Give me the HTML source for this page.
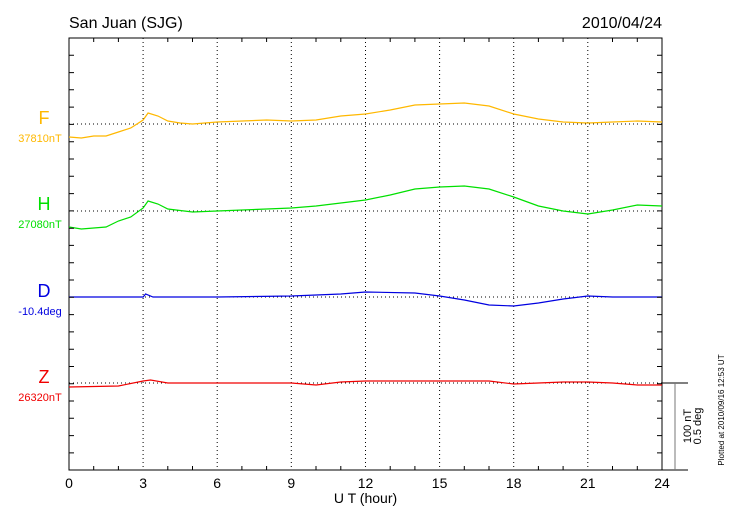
<!DOCTYPE html>
<html><head><style>body{margin:0;background:#fff}svg{display:block}text{font-family:"Liberation Sans",sans-serif}</style></head><body>
<svg width="730" height="520" viewBox="0 0 730 520" xmlns="http://www.w3.org/2000/svg">
<rect width="730" height="520" fill="#fff"/>
<text x="69" y="28" font-size="16">San Juan (SJG)</text>
<text x="662" y="28" font-size="16" text-anchor="end">2010/04/24</text>
<g stroke="#000" stroke-width="1" stroke-dasharray="1,3" fill="none">
<line x1="143.1" y1="38" x2="143.1" y2="470"/><line x1="217.2" y1="38" x2="217.2" y2="470"/><line x1="291.3" y1="38" x2="291.3" y2="470"/><line x1="365.5" y1="38" x2="365.5" y2="470"/><line x1="439.6" y1="38" x2="439.6" y2="470"/><line x1="513.7" y1="38" x2="513.7" y2="470"/><line x1="587.8" y1="38" x2="587.8" y2="470"/>
<line x1="69" y1="124" x2="662" y2="124"/><line x1="69" y1="211" x2="662" y2="211"/><line x1="69" y1="297" x2="662" y2="297"/><line x1="69" y1="383" x2="662" y2="383"/>
</g>
<g id="ax" stroke="#000" stroke-width="1" fill="none">
<rect x="69" y="38" width="593" height="432"/>
<path id="ticks" d=""/>
<line x1="662" y1="383" x2="688" y2="383"/><line x1="662" y1="470" x2="688" y2="470"/>
</g>
<line x1="675" y1="383" x2="675" y2="470" stroke="#777" stroke-width="1"/>
<g stroke="#000" stroke-width="1" id="tk"></g>
<g transform="translate(69,0) scale(24.708,1)" fill="none" stroke-width="1.2">
<polyline vector-effect="non-scaling-stroke" stroke="#ffb800" points="0,137 0.5,138 1,136 1.5,136 2,132 2.5,128 3,120 3.2,113 3.6,116 4,121 4.5,123 5,124 5.5,123 6,122 8,120 9,121 10,120 11,116 12,114 13,110 14,105 15,104 16,103 17,106 18,114 19,119 20,122 21,123 22,122 23,121 24,122"/>
<polyline vector-effect="non-scaling-stroke" stroke="#00e000" points="0,227 0.5,229 1,228 1.5,227 2,221 2.5,217 3,208 3.2,201 3.6,204 4,209 5,212 6,211 8,209 9,208 10,206 11,203 12,200 13,195 14,189 15,187 16,186 17,189 18,197 19,206 20,211 21,214 22,210 23,205 24,206"/>
<polyline vector-effect="non-scaling-stroke" stroke="#0000e0" points="0,297 3,297 3.1,294 3.4,297 6,297 9,296 11,294 12,292 14,293 15,296 16,300 17,305 18,306 19,303 20,299 21,296 22,297 24,297"/>
<polyline vector-effect="non-scaling-stroke" stroke="#f00000" points="0,387 2,386 3,381 3.3,380 4,383 6,383 9,383 10,385 11,382 12,381 15,381 17,381 18,384 19,383 20,382 21,382 22,383 23,385 24,385"/>
</g>
<path stroke="#000" fill="none" d="M69,55.3h5M69,72.6h5M69,89.8h5M69,107.1h5M69,124.4h5M69,141.7h5M69,159h5M69,176.3h5M69,193.6h5M69,210.9h5M69,228.2h5M69,245.4h5M69,262.7h5M69,280h5M69,297.3h5M69,314.6h5M69,331.9h5M69,349.2h5M69,366.5h5M69,383.8h5M69,401h5M69,418.3h5M69,435.6h5M69,452.9h5M662,55.3h-5M662,72.6h-5M662,89.8h-5M662,107.1h-5M662,124.4h-5M662,141.7h-5M662,159h-5M662,176.3h-5M662,193.6h-5M662,210.9h-5M662,228.2h-5M662,245.4h-5M662,262.7h-5M662,280h-5M662,297.3h-5M662,314.6h-5M662,331.9h-5M662,349.2h-5M662,366.5h-5M662,383.8h-5M662,401h-5M662,418.3h-5M662,435.6h-5M662,452.9h-5
M93.7,38v4M118.4,38v4M167.8,38v4M192.5,38v4M241.9,38v4M266.6,38v4M316,38v4M340.8,38v4M390.2,38v4M414.9,38v4M464.3,38v4M489,38v4M538.4,38v4M563.1,38v4M612.5,38v4M637.3,38v4
M93.7,470v-4M118.4,470v-4M167.8,470v-4M192.5,470v-4M241.9,470v-4M266.6,470v-4M316,470v-4M340.8,470v-4M390.2,470v-4M414.9,470v-4M464.3,470v-4M489,470v-4M538.4,470v-4M563.1,470v-4M612.5,470v-4M637.3,470v-4"/>
<g font-size="14" text-anchor="middle">
<text x="69" y="488">0</text><text x="143.1" y="488">3</text><text x="217.2" y="488">6</text><text x="291.3" y="488">9</text><text x="365.5" y="488">12</text><text x="439.6" y="488">15</text><text x="513.7" y="488">18</text><text x="587.8" y="488">21</text><text x="662" y="488">24</text>
<text x="365.5" y="503">U T (hour)</text>
</g>
<g text-anchor="middle">
<text x="44" y="124" font-size="18" fill="#ffb800">F</text><text x="40" y="142" font-size="11" fill="#ffb800">37810nT</text>
<text x="44" y="210" font-size="18" fill="#00e000">H</text><text x="40" y="228" font-size="11" fill="#00e000">27080nT</text>
<text x="44" y="297" font-size="18" fill="#0000e0">D</text><text x="40" y="315" font-size="11" fill="#0000e0">-10.4deg</text>
<text x="44" y="383" font-size="18" fill="#f00000">Z</text><text x="40" y="401" font-size="11" fill="#f00000">26320nT</text>
</g>
<text transform="translate(691,426) rotate(-90)" font-size="11" text-anchor="middle">100 nT</text>
<text transform="translate(701,426) rotate(-90)" font-size="11" text-anchor="middle">0.5 deg</text>
<text transform="translate(724,410) rotate(-90)" font-size="8" text-anchor="middle">Plotted at 2010/09/16 12:53 UT</text>
</svg>
</body></html>
